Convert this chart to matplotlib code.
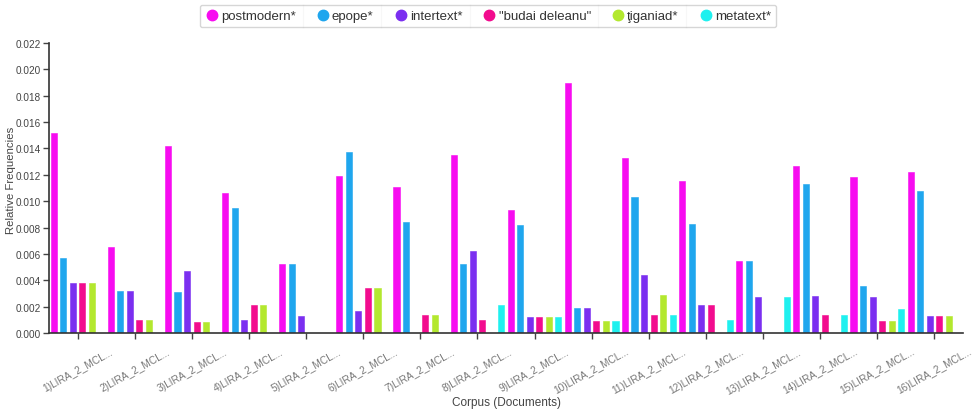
import numpy as np
import matplotlib
matplotlib.use("Agg")
import matplotlib.pyplot as plt
from matplotlib.lines import Line2D

plt.rcParams['font.family'] = ['Liberation Sans', 'DejaVu Sans']

documents = [f"{i})LIRA_2_MCL..." for i in range(1, 17)]
series_names = ["postmodern*", "epope*", "intertext*", "\"budai deleanu\"", "ţiganiad*", "metatext*"]
colors = ["#f70cf0", "#1fa6ee", "#7b2ff0", "#f20c8e", "#b3e82e", "#1ff0ef"]

postmodern = [0.0152, 0.0065, 0.0142, 0.0106, 0.0052, 0.0119, 0.0111, 0.0135,
              0.0093, 0.0190, 0.0133, 0.0115, 0.0055, 0.0127, 0.0118, 0.0122]
epope = [0.0057, 0.0032, 0.0031, 0.0095, 0.0052, 0.0137, 0.0084, 0.0052,
         0.0082, 0.0019, 0.0103, 0.0083, 0.0055, 0.0113, 0.0036, 0.0108]
intertext = [0.0038, 0.0032, 0.0047, 0.0010, 0.0013, 0.0017, 0.0, 0.0062,
             0.0012, 0.0019, 0.0044, 0.0021, 0.0027, 0.0028, 0.0027, 0.0013]
budai = [0.0038, 0.0010, 0.0008, 0.0021, 0.0, 0.0034, 0.0014, 0.0010,
         0.0012, 0.0009, 0.0014, 0.0021, 0.0, 0.0014, 0.0009, 0.0013]
tiganiad = [0.0038, 0.0010, 0.0008, 0.0021, 0.0, 0.0034, 0.0014, 0.0,
            0.0012, 0.0009, 0.0029, 0.0, 0.0, 0.0, 0.0009, 0.0013]
metatext = [0.0, 0.0, 0.0, 0.0, 0.0, 0.0, 0.0, 0.0021,
            0.0012, 0.0009, 0.0014, 0.0010, 0.0027, 0.0014, 0.0018, 0.0]

series = [postmodern, epope, intertext, budai, tiganiad, metatext]
yticks = [0.000, 0.002, 0.004, 0.006, 0.008, 0.010, 0.012, 0.014, 0.016, 0.018, 0.020, 0.022]

W, H = 973, 410
fig = plt.figure(figsize=(W / 100, H / 100), dpi=100)
ax = fig.add_axes([49/W, 1-334/H, (963-49)/W, (334-44)/H])

n = len(documents)
k = len(series)
x = np.arange(n)
slot = 1.0 / k
for j, (vals, c) in enumerate(zip(series, colors)):
    offs = -0.5 + slot * (j + 0.5)
    ax.bar(x + offs, vals, width=slot * 0.64, color=c, edgecolor=c, linewidth=0.4,
           label=series_names[j])

ax.set_xlim(-0.5, n - 0.5)
ax.set_ylim(0, 0.022)
ax.set_yticks(yticks)
ax.set_yticklabels([f"{v:.3f}" for v in yticks], fontsize=7.2, color="#444444")
ax.set_xticks(x)
ax.set_xticklabels(documents, rotation=29, ha="center", va="top",
                   fontsize=7.3, color="#777777")
ax.tick_params(axis="both", direction="out", length=4.5, width=1, color="#444444")
ax.tick_params(axis="y", pad=1.5)
ax.tick_params(axis="x", pad=5)
for s in ["top", "right"]:
    ax.spines[s].set_visible(False)
for s in ["left", "bottom"]:
    ax.spines[s].set_color("#333333")
    ax.spines[s].set_linewidth(1.2)

fig.text(11/W, 1-180/H, "Relative Frequencies", rotation=90, ha="center", va="center",
         fontsize=8.2, color="#444444")
fig.text(507/W, 1-403/H, "Corpus (Documents)", ha="center", va="center",
         fontsize=8.5, color="#444444")

handles = [Line2D([0], [0], marker="o", linestyle="none", markersize=7.5,
                  markerfacecolor=c, markeredgecolor=c) for c in colors]
leg = fig.legend(handles, series_names, loc="center", bbox_to_anchor=(488/W, 1-17/H),
                 ncol=6, frameon=True, fontsize=9.5, handletextpad=0.2, columnspacing=1.55,
                 borderpad=0.4, handlelength=1.0, fancybox=True)
leg.get_frame().set_edgecolor("#cccccc")
leg.get_frame().set_linewidth(1.0)
for t in leg.get_texts():
    t.set_color("#333333")

fig.canvas.draw()
renderer = fig.canvas.get_renderer()
fb = leg.get_frame().get_window_extent(renderer)
texts = leg.get_texts()
hl = leg.legend_handles
for i in range(len(texts) - 1):
    right = texts[i].get_window_extent(renderer).x1
    left_next = hl[i + 1].get_window_extent(renderer).x0
    xm = (right + left_next) / 2
    fx = xm / fig.bbox.width
    fig.add_artist(Line2D([fx, fx], [fb.y0 / fig.bbox.height, fb.y1 / fig.bbox.height],
                          color="#d8d8d8", linewidth=0.8))

fig.savefig("out.png", dpi=100)
